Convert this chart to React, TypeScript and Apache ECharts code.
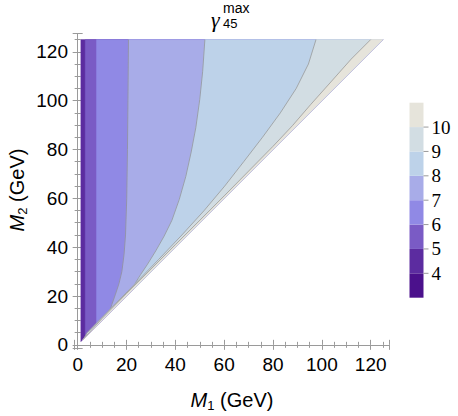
import React, { useEffect, useRef } from 'react';
import * as echarts from 'echarts';

type Pt = [number, number];

// Domain of the scan: M1 from ~1.3 to 125 GeV, M2 from M1 to 125 GeV
const DOMAIN_LEFT = 1.3;
const DOMAIN_TOP = 125;
const CORNER: Pt = [125, 125];

// Contour lines of gamma_45^max, as [M1, M2] points from the top edge down to the diagonal
const contour5: Pt[] = [[3.1, 125], [3.1, 3.1]];
const contour6: Pt[] = [[7.7, 125], [7.7, 7.7]];
const contour7: Pt[] = [[20.8, 125], [20.6, 100], [20.4, 80], [20.1, 60], [19.6, 45], [19.0, 37], [18.1, 30], [16.9, 25], [15.4, 20.5], [14, 16.5], [12.8, 12.8]];
const contour8: Pt[] = [[52.1, 125], [51.2, 112], [50, 100.5], [48.4, 89], [46.5, 79], [44.3, 69], [41.6, 59.5], [38.6, 51], [35.4, 44.5], [32, 38.5], [28.6, 33], [25.8, 28.8], [23.8, 25.6], [22.8, 22.8]];
const contour9: Pt[] = [[97.6, 125], [94.5, 115], [89.5, 105], [83, 95], [75.7, 85], [68, 75], [60.2, 65], [51.8, 55], [42.7, 45], [33.2, 35], [23.5, 25], [13.7, 15], [3.9, 5], [2.5, 2.5]];
const contour10: Pt[] = [[120, 125], [112, 117], [104, 108], [95.5, 98.5], [88, 89.8], [80, 81.3], [60, 61], [40, 41], [20, 21], [10, 10.8], [2, 2]];
const contours: Pt[][] = [contour5, contour6, contour7, contour8, contour9, contour10];

// Band colours: 4-5, 5-6, 6-7, 7-8, 8-9, 9-10, >10
const bandColors = ['#5c2ca0', '#7a5bc5', '#9089e5', '#a8ace8', '#bdd2e9', '#d2dde3', '#e6e4db'];
// Colour bar
const barLevels = [3, 4, 5, 6, 7, 8, 9, 10, 11];
const barColors = ['#4b118c', ...bandColors];

const AXIS_COLOR = '#9a9a9a';
const SANS = 'Liberation Sans, Arial, sans-serif';
const SERIF = 'Liberation Serif, Times New Roman, serif';

export default function App() {
  const ref = useRef<HTMLDivElement>(null);
  useEffect(() => {
    if (!ref.current) return;
    const chart = echarts.init(ref.current, null, { renderer: 'svg' });

    const valueAxisBase = (pos: string, showLabel: boolean) => ({
      type: 'value',
      position: pos,
      min: -1.5,
      max: 127.5,
      splitNumber: 6,
      minInterval: 20,
      maxInterval: 20,
      axisLine: { show: true, lineStyle: { color: AXIS_COLOR, width: 1 } },
      axisTick: { show: true, inside: true, length: 5, lineStyle: { color: AXIS_COLOR } },
      minorTick: { show: true, splitNumber: 4, length: 3, lineStyle: { color: AXIS_COLOR } },
      splitLine: { show: false },
      axisLabel: {
        show: showLabel,
        showMinLabel: false,
        showMaxLabel: false,
        fontFamily: SANS,
        fontSize: 19,
        color: '#000',
        margin: 6,
      },
    });

    const option: any = {
      animation: false,
      backgroundColor: '#fff',
      grid: [
        { left: 74, top: 33.5, width: 315, height: 315 },
        { left: 409.5, top: 102.7, width: 14, height: 195 },
      ],
      xAxis: [
        { ...valueAxisBase('bottom', true), gridIndex: 0 },
        { ...valueAxisBase('top', false), gridIndex: 0 },
        { type: 'value', gridIndex: 1, min: 0, max: 1, show: false },
      ],
      yAxis: [
        { ...valueAxisBase('left', true), gridIndex: 0 },
        { ...valueAxisBase('right', false), gridIndex: 0 },
        {
          type: 'value',
          gridIndex: 1,
          position: 'right',
          min: 3,
          max: 11,
          interval: 1,
          axisLine: { show: false },
          axisTick: { show: false },
          splitLine: { show: false },
          axisLabel: {
            fontFamily: SERIF,
            fontSize: 19,
            color: '#000',
            margin: 8,
            formatter: (v: number) => (v > 3 && v < 11 ? String(v) : ''),
          },
        },
      ],
      series: [
        {
          type: 'custom',
          xAxisIndex: 0,
          yAxisIndex: 0,
          encode: { x: 0, y: 1 },
          data: bandColors.map((_, i) => [i, 0]),
          renderItem: (_params: any, api: any) => {
            const i = api.value(0) as number;
            const pts: Pt[] =
              i === 0
                ? [[DOMAIN_LEFT, DOMAIN_TOP], CORNER, [DOMAIN_LEFT, DOMAIN_LEFT]]
                : [...contours[i - 1], CORNER];
            const poly = pts.map((p) => api.coord(p));
            const children: any[] = [
              {
                type: 'polygon',
                shape: { points: poly },
                style: { fill: bandColors[i], stroke: bandColors[i], lineWidth: 0.4 },
              },
            ];
            if (i >= 3) {
              children.push({
                type: 'polyline',
                shape: { points: contours[i - 1].map((p) => api.coord(p)) },
                style: { stroke: '#8a8a8a', lineWidth: 1, opacity: 0.65, fill: null },
              });
            }
            return { type: 'group', children };
          },
        },
        {
          type: 'custom',
          xAxisIndex: 2,
          yAxisIndex: 2,
          encode: { x: 0, y: [1, 2] },
          data: barColors.map((_, i) => [0, barLevels[i], barLevels[i + 1]]),
          renderItem: (_params: any, api: any) => {
            const lo = api.value(1) as number;
            const hi = api.value(2) as number;
            const p0 = api.coord([0, lo]);
            const p1 = api.coord([1, hi]);
            const idx = barLevels.indexOf(lo);
            const children: any[] = [
              {
                type: 'rect',
                shape: { x: p0[0], y: p1[1], width: p1[0] - p0[0], height: p0[1] - p1[1] },
                style: { fill: barColors[idx] },
              },
            ];
            if (lo > barLevels[0]) {
              children.push({
                type: 'line',
                shape: { x1: p1[0], y1: p0[1], x2: p1[0] + 5, y2: p0[1] },
                style: { stroke: AXIS_COLOR, lineWidth: 1 },
              });
            }
            return { type: 'group', children };
          },
        },
      ],
      graphic: [
        {
          type: 'text',
          x: 211,
          y: 19,
          style: { text: 'γ', font: 'italic 22px ' + SERIF, fill: '#000', align: 'left', verticalAlign: 'middle' },
        },
        {
          type: 'text',
          x: 223,
          y: 23,
          style: { text: '45', font: '13px ' + SANS, fill: '#000', align: 'left', verticalAlign: 'middle' },
        },
        {
          type: 'text',
          x: 223,
          y: 7.5,
          style: { text: 'max', font: '14px ' + SANS, fill: '#000', align: 'left', verticalAlign: 'middle' },
        },
        {
          type: 'text',
          x: 232,
          y: 400,
          style: {
            text: '{m|M}{s|1}{n| (GeV)}',
            align: 'center',
            verticalAlign: 'middle',
            rich: {
              m: { fontFamily: SANS, fontStyle: 'italic', fontSize: 20, lineHeight: 24, fill: '#000', verticalAlign: 'middle' },
              s: { fontFamily: SANS, fontSize: 13, lineHeight: 24, fill: '#000', verticalAlign: 'bottom' },
              n: { fontFamily: SANS, fontSize: 20, lineHeight: 24, fill: '#000', verticalAlign: 'middle' },
            },
          },
        },
        {
          type: 'text',
          x: 17,
          y: 190,
          rotation: Math.PI / 2,
          style: {
            text: '{m|M}{s|2}{n| (GeV)}',
            align: 'center',
            verticalAlign: 'middle',
            rich: {
              m: { fontFamily: SANS, fontStyle: 'italic', fontSize: 20, lineHeight: 24, fill: '#000', verticalAlign: 'middle' },
              s: { fontFamily: SANS, fontSize: 13, lineHeight: 24, fill: '#000', verticalAlign: 'bottom' },
              n: { fontFamily: SANS, fontSize: 20, lineHeight: 24, fill: '#000', verticalAlign: 'middle' },
            },
          },
        },
      ],
    };

    chart.setOption(option);
    return () => chart.dispose();
  }, []);

  return <div ref={ref} style={{ width: 458, height: 416, position: 'absolute', left: 0, top: 0 }} />;
}
